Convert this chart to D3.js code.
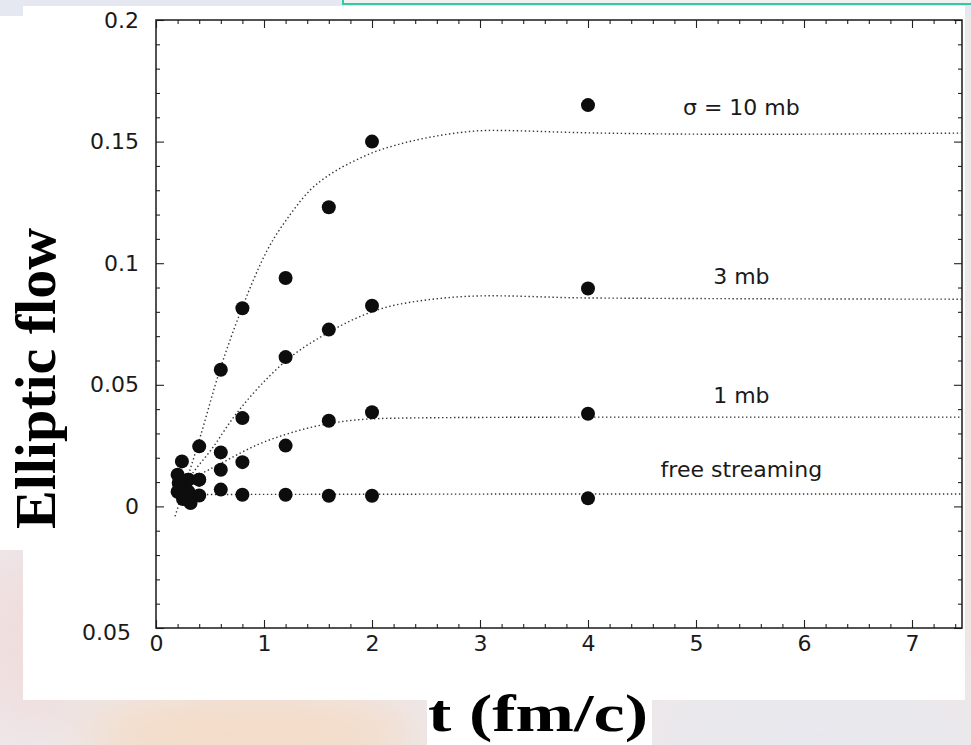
<!DOCTYPE html>
<html>
<head>
<meta charset="utf-8">
<script src="https://cdn.jsdelivr.net/npm/d3@7"></script>
<style>
  body { margin: 0; background: #ece8ea; }
  svg { display: block; }
</style>
</head>
<body>
<div id="chart"></div>
<script>
// values: [t (fm/c), elliptic flow]
var pts10mb = [[0.2, 0.013], [0.3, 0.011], [0.4, 0.0247], [0.6, 0.0562], [0.8, 0.0815],
               [1.2, 0.0939], [1.6, 0.123], [2, 0.150], [4, 0.165]];
var pts3mb  = [[0.24, 0.0185], [0.3, 0.011], [0.4, 0.011], [0.6, 0.0222], [0.8, 0.0363],
               [1.2, 0.0614], [1.6, 0.0727], [2, 0.0825], [4, 0.0896]];
var pts1mb  = [[0.21, 0.0096], [0.22, 0.0074], [0.3, 0.006], [0.4, 0.011], [0.6, 0.0151],
               [0.8, 0.0182], [1.2, 0.025], [1.6, 0.0352], [2, 0.0387], [4, 0.0381]];
var ptsFree = [[0.2, 0.006], [0.25, 0.003], [0.32, 0.0014], [0.4, 0.0045], [0.6, 0.0069],
               [0.8, 0.0048], [1.2, 0.0048], [1.6, 0.0044], [2, 0.0044], [4, 0.0033]];

// dotted fit curves
var curve10mb = [[0.176, -0.0041], [0.398, 0.0269], [0.593, 0.0563], [0.796, 0.0815], [1.025, 0.1049],
                 [1.241, 0.1199], [1.426, 0.1300], [1.611, 0.1365], [1.824, 0.1418], [2.009, 0.1455],
                 [2.259, 0.1490], [2.426, 0.1508], [2.694, 0.1530], [3.102, 0.1546], [4.009, 0.1536],
                 [5.463, 0.1530], [7.454, 0.1535]];
var curve3mb  = [[0.278, 0.0095], [0.299, 0.011], [0.531, 0.0245], [0.716, 0.0365], [0.901, 0.0465],
                 [1.194, 0.0595], [1.595, 0.0715], [2.0, 0.0800], [2.259, 0.0832], [3.102, 0.0866],
                 [4.009, 0.0857], [7.454, 0.0852]];
var curve1mb  = [[0.315, 0.011], [0.593, 0.0175], [0.947, 0.0255], [1.194, 0.0295], [1.595, 0.0340],
                 [1.997, 0.0360], [2.259, 0.0363], [3.102, 0.0366], [4.009, 0.0367], [7.454, 0.0367]];
var curveFree = [[0.36, 0.0049], [2, 0.005], [4, 0.0051], [7.454, 0.0051]];

var seriesLabels = ["\u03c3 = 10 mb", "3 mb", "1 mb", "free streaming"];
var xTicks = [0, 1, 2, 3, 4, 5, 6, 7];
var yTicks = [-0.05, 0, 0.05, 0.1, 0.15, 0.2];
var yTickLabels = ["0.05", "0", "0.05", "0.1", "0.15", "0.2"];

var W = 971, H = 745;
var margin = {top: 20, right: 9, bottom: 117, left: 156},
    width = W - margin.left - margin.right,
    height = H - margin.top - margin.bottom;

var root = d3.select("#chart").append("svg").attr("width", W).attr("height", H);

// blurred slide background behind the scanned figure
var defs = root.append("defs");
defs.append("filter").attr("id", "blur").attr("x", "-50%").attr("y", "-50%").attr("width", "200%").attr("height", "200%")
  .append("feGaussianBlur").attr("stdDeviation", 25);
defs.append("clipPath").attr("id", "plotclip").append("rect").attr("width", width).attr("height", height);

root.append("rect").attr("width", W).attr("height", H).attr("fill", "#ede8ea");
var bg = root.append("g").attr("filter", "url(#blur)");
bg.append("ellipse").attr("cx", 250).attr("cy", 735).attr("rx", 170).attr("ry", 45).attr("fill", "#f4dcc8");
bg.append("ellipse").attr("cx", 30).attr("cy", 640).attr("rx", 60).attr("ry", 90).attr("fill", "#f0dede");
bg.append("ellipse").attr("cx", 820).attr("cy", 735).attr("rx", 160).attr("ry", 40).attr("fill", "#e7e8ee");
bg.append("ellipse").attr("cx", 960).attr("cy", 500).attr("rx", 30).attr("ry", 200).attr("fill", "#f1e3e2");
root.append("rect").attr("width", W).attr("height", 16).attr("fill", "#e5e8f0");

// white paper of the scan
root.append("rect").attr("x", 23).attr("y", 6).attr("width", 942).attr("height", 694).attr("fill", "#fff");
root.append("rect").attr("x", 0).attr("y", 16).attr("width", 23).attr("height", 534).attr("fill", "#fff");
root.append("rect").attr("x", 427).attr("y", 700).attr("width", 225).attr("height", 45).attr("fill", "#fff");
root.append("rect").attr("x", 343).attr("y", -4).attr("width", 640).attr("height", 8)
  .attr("fill", "#eef3f1").attr("stroke", "#37c6a4").attr("stroke-width", 2);

var svg = root.append("g").attr("transform", "translate(" + margin.left + "," + margin.top + ")");

var x = d3.scaleLinear().domain([0, width / 108]).range([0, width]);
var y = d3.scaleLinear().domain([-0.05, 0.2]).range([height, 0]);

var xMinor = d3.range(0.2, x.domain()[1], 0.2).filter(function(d) { return Math.abs(d - Math.round(d)) > 0.01; });
var yMinor = d3.range(-0.04, 0.2, 0.01).filter(function(d) { return Math.abs(d / 0.05 - Math.round(d / 0.05)) > 0.01; });

function styleAxis(g) {
  g.select(".domain").remove();
  g.selectAll("line").attr("stroke", "#222").attr("stroke-width", 1.1);
  g.selectAll("text").attr("font-family", "DejaVu Sans").attr("font-size", 22).attr("fill", "#1a1a1a");
}

// bottom
svg.append("g").attr("transform", "translate(0," + height + ")")
  .call(d3.axisBottom(x).tickValues(xTicks).tickFormat(d3.format("d")).tickSizeInner(-8).tickSizeOuter(0).tickPadding(7))
  .call(styleAxis);
svg.append("g").attr("transform", "translate(0," + height + ")")
  .call(d3.axisBottom(x).tickValues(xMinor).tickFormat("").tickSizeInner(-4).tickSizeOuter(0)).call(styleAxis);
// top
svg.append("g").call(d3.axisTop(x).tickValues(xTicks).tickFormat("").tickSizeInner(-8).tickSizeOuter(0)).call(styleAxis);
svg.append("g").call(d3.axisTop(x).tickValues(xMinor).tickFormat("").tickSizeInner(-4).tickSizeOuter(0)).call(styleAxis);
// left
svg.append("g")
  .call(d3.axisLeft(y).tickValues(yTicks).tickFormat(function(d, i) { return yTickLabels[i]; }).tickSizeInner(-8).tickSizeOuter(0).tickPadding(17))
  .call(styleAxis)
  .selectAll("text").filter(function(d, i) { return i === 0; }).attr("dx", -8).attr("dy", "0.52em");
svg.append("g").call(d3.axisLeft(y).tickValues(yMinor).tickFormat("").tickSizeInner(-4).tickSizeOuter(0)).call(styleAxis);
// right
svg.append("g").attr("transform", "translate(" + width + ",0)")
  .call(d3.axisRight(y).tickValues(yTicks).tickFormat("").tickSizeInner(-8).tickSizeOuter(0)).call(styleAxis);
svg.append("g").attr("transform", "translate(" + width + ",0)")
  .call(d3.axisRight(y).tickValues(yMinor).tickFormat("").tickSizeInner(-4).tickSizeOuter(0)).call(styleAxis);

// frame
svg.append("rect").attr("width", width).attr("height", height)
  .attr("fill", "none").attr("stroke", "#1a1a1a").attr("stroke-width", 1.5);

// dotted curves
var line = d3.line().x(function(d) { return x(d[0]); }).y(function(d) { return y(d[1]); }).curve(d3.curveMonotoneX);
svg.append("g").attr("clip-path", "url(#plotclip)")
  .selectAll("path").data([curve10mb, curve3mb, curve1mb, curveFree]).enter().append("path")
  .attr("d", line).attr("fill", "none").attr("stroke", "#333")
  .attr("stroke-width", 1.4).attr("stroke-dasharray", "1.4,2.6");

// points
[pts10mb, pts3mb, pts1mb, ptsFree].forEach(function(pts) {
  svg.append("g").selectAll("circle").data(pts).enter().append("circle")
    .attr("cx", function(d) { return x(d[0]); })
    .attr("cy", function(d) { return y(d[1]); })
    .attr("r", 7).attr("fill", "#0d0d0d");
});

// curve labels
var labelY = [0.1608, 0.0913, 0.0424, 0.0119];
svg.append("g").selectAll("text").data(seriesLabels).enter().append("text")
  .attr("x", x(5.42)).attr("y", function(d, i) { return y(labelY[i]); })
  .attr("text-anchor", "middle")
  .attr("font-family", "DejaVu Sans").attr("font-size", 22).attr("fill", "#1a1a1a")
  .text(function(d) { return d; });

// axis titles
root.append("text").attr("x", 428).attr("y", 731)
  .attr("font-family", "Liberation Serif").attr("font-weight", "bold").attr("font-size", 53)
  .attr("textLength", 220).attr("lengthAdjust", "spacingAndGlyphs")
  .text("t (fm/c)");
root.append("text").attr("transform", "translate(55,529) rotate(-90)")
  .attr("font-family", "Liberation Serif").attr("font-weight", "bold").attr("font-size", 56)
  .attr("textLength", 301).attr("lengthAdjust", "spacingAndGlyphs")
  .text("Elliptic flow");
</script>
</body>
</html>
